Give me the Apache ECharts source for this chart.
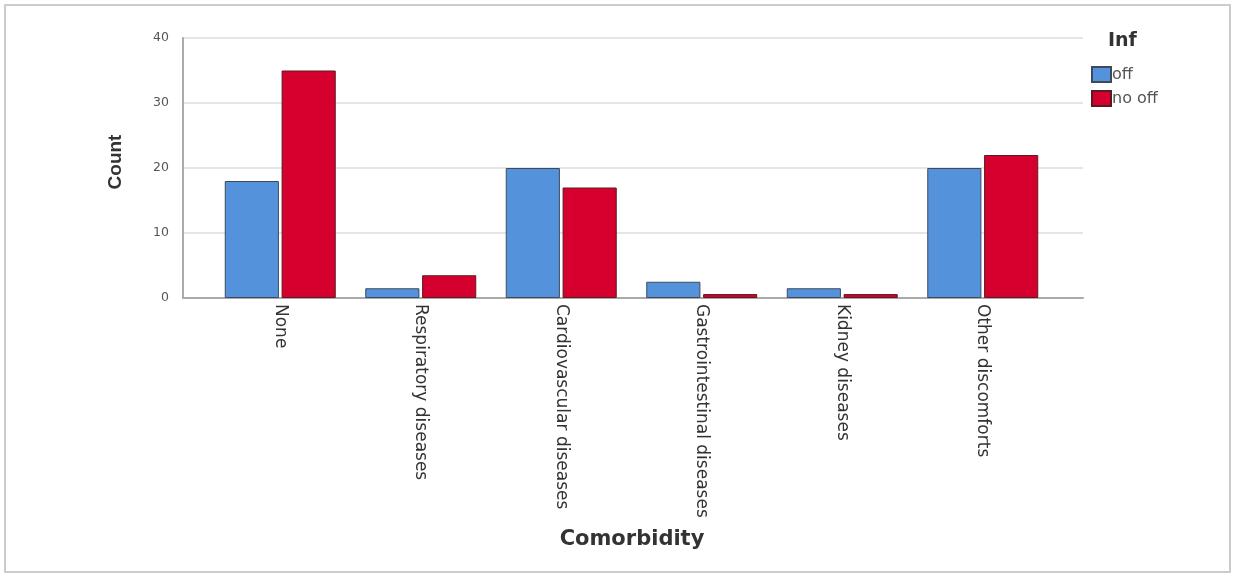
<!DOCTYPE html>
<html>
<head>
<meta charset="utf-8">
<script src="https://cdn.jsdelivr.net/npm/echarts@6/dist/echarts.min.js"></script>
<style>html,body{margin:0;padding:0;background:#fff}#c{width:1235px;height:577px}</style>
</head>
<body>
<div id="c"></div>
<script>
var categories = ['None','Respiratory diseases','Cardiovascular diseases','Gastrointestinal diseases','Kidney diseases','Other discomforts'];
var seriesNames = ['off','no off'];
var offValues = [18, 1.5, 20, 2.5, 1.5, 20];
var noOffValues = [35, 3.5, 17, 0.6, 0.6, 22];
var yTicks = [0, 10, 20, 30, 40];

var chart = echarts.init(document.getElementById('c'));
var font = 'DejaVu Sans, sans-serif';
var font2 = 'Liberation Sans, Arial, sans-serif';
chart.setOption({
  animation: false,
  backgroundColor: '#fff',
  textStyle: {fontFamily: font},
  grid: [
    {left: 183, right: 152, top: 38, bottom: 279},
    {left: 210, right: 182, top: 38, bottom: 279}
  ],
  xAxis: [
    {gridIndex: 0, type: 'value', min: 0, max: 1,
     axisLine: {show: true, onZero: false, lineStyle: {color: '#aaa', width: 2}},
     axisTick: {show: false}, axisLabel: {show: false}, splitLine: {show: false}},
    {gridIndex: 1, type: 'category', data: categories,
     axisLine: {show: false}, axisTick: {show: false},
     axisLabel: {rotate: -90, fontSize: 17, color: '#333', margin: 6, fontFamily: font}}
  ],
  yAxis: [
    {gridIndex: 0, type: 'value', min: yTicks[0], max: yTicks[yTicks.length-1], interval: 10,
     axisLine: {show: true, lineStyle: {color: '#aaa', width: 2}},
     axisTick: {show: false},
     axisLabel: {fontSize: 12.5, color: '#555', margin: 14, fontFamily: font},
     splitLine: {show: true, lineStyle: {color: '#ddd', width: 1.5}}},
    {gridIndex: 1, type: 'value', min: 0, max: 40, show: false}
  ],
  legend: {
    orient: 'vertical', left: 1086, top: 61, itemWidth: 19, itemHeight: 15, itemGap: 7,
    icon: 'rect',
    textStyle: {fontSize: 16, color: '#555', padding: [0,0,0,-4], fontFamily: font},
    data: seriesNames
  },
  series: [
    {name: seriesNames[0], type: 'bar', xAxisIndex: 1, yAxisIndex: 1, data: offValues,
     barGap: '5%', barCategoryGap: '21%',
     itemStyle: {color: '#5592dc', borderColor: '#3c4a5c', borderWidth: 1}},
    {name: seriesNames[1], type: 'bar', xAxisIndex: 1, yAxisIndex: 1, data: noOffValues,
     barGap: '5%', barCategoryGap: '21%',
     itemStyle: {color: '#d6002f', borderColor: '#5a1a22', borderWidth: 1}}
  ],
  graphic: [
    {type: 'rect', shape: {x: 5, y: 5, width: 1225, height: 567}, silent: true, z: -10,
     style: {fill: 'none', stroke: '#ccc', lineWidth: 2}},
    {type: 'text', x: 1108, y: 32, style: {text: 'Inf', font: 'bold 19px ' + font, fill: '#333'}},
    {type: 'text', x: 116, y: 162, rotation: Math.PI/2, style: {text: 'Count', font: 'bold 19px ' + font2, fill: '#333', textAlign: 'center', textVerticalAlign: 'middle'}},
    {type: 'text', x: 632, y: 540, style: {text: 'Comorbidity', font: 'bold 21px ' + font, fill: '#333', textAlign: 'center', textVerticalAlign: 'middle'}}
  ]
});
</script>
</body>
</html>
